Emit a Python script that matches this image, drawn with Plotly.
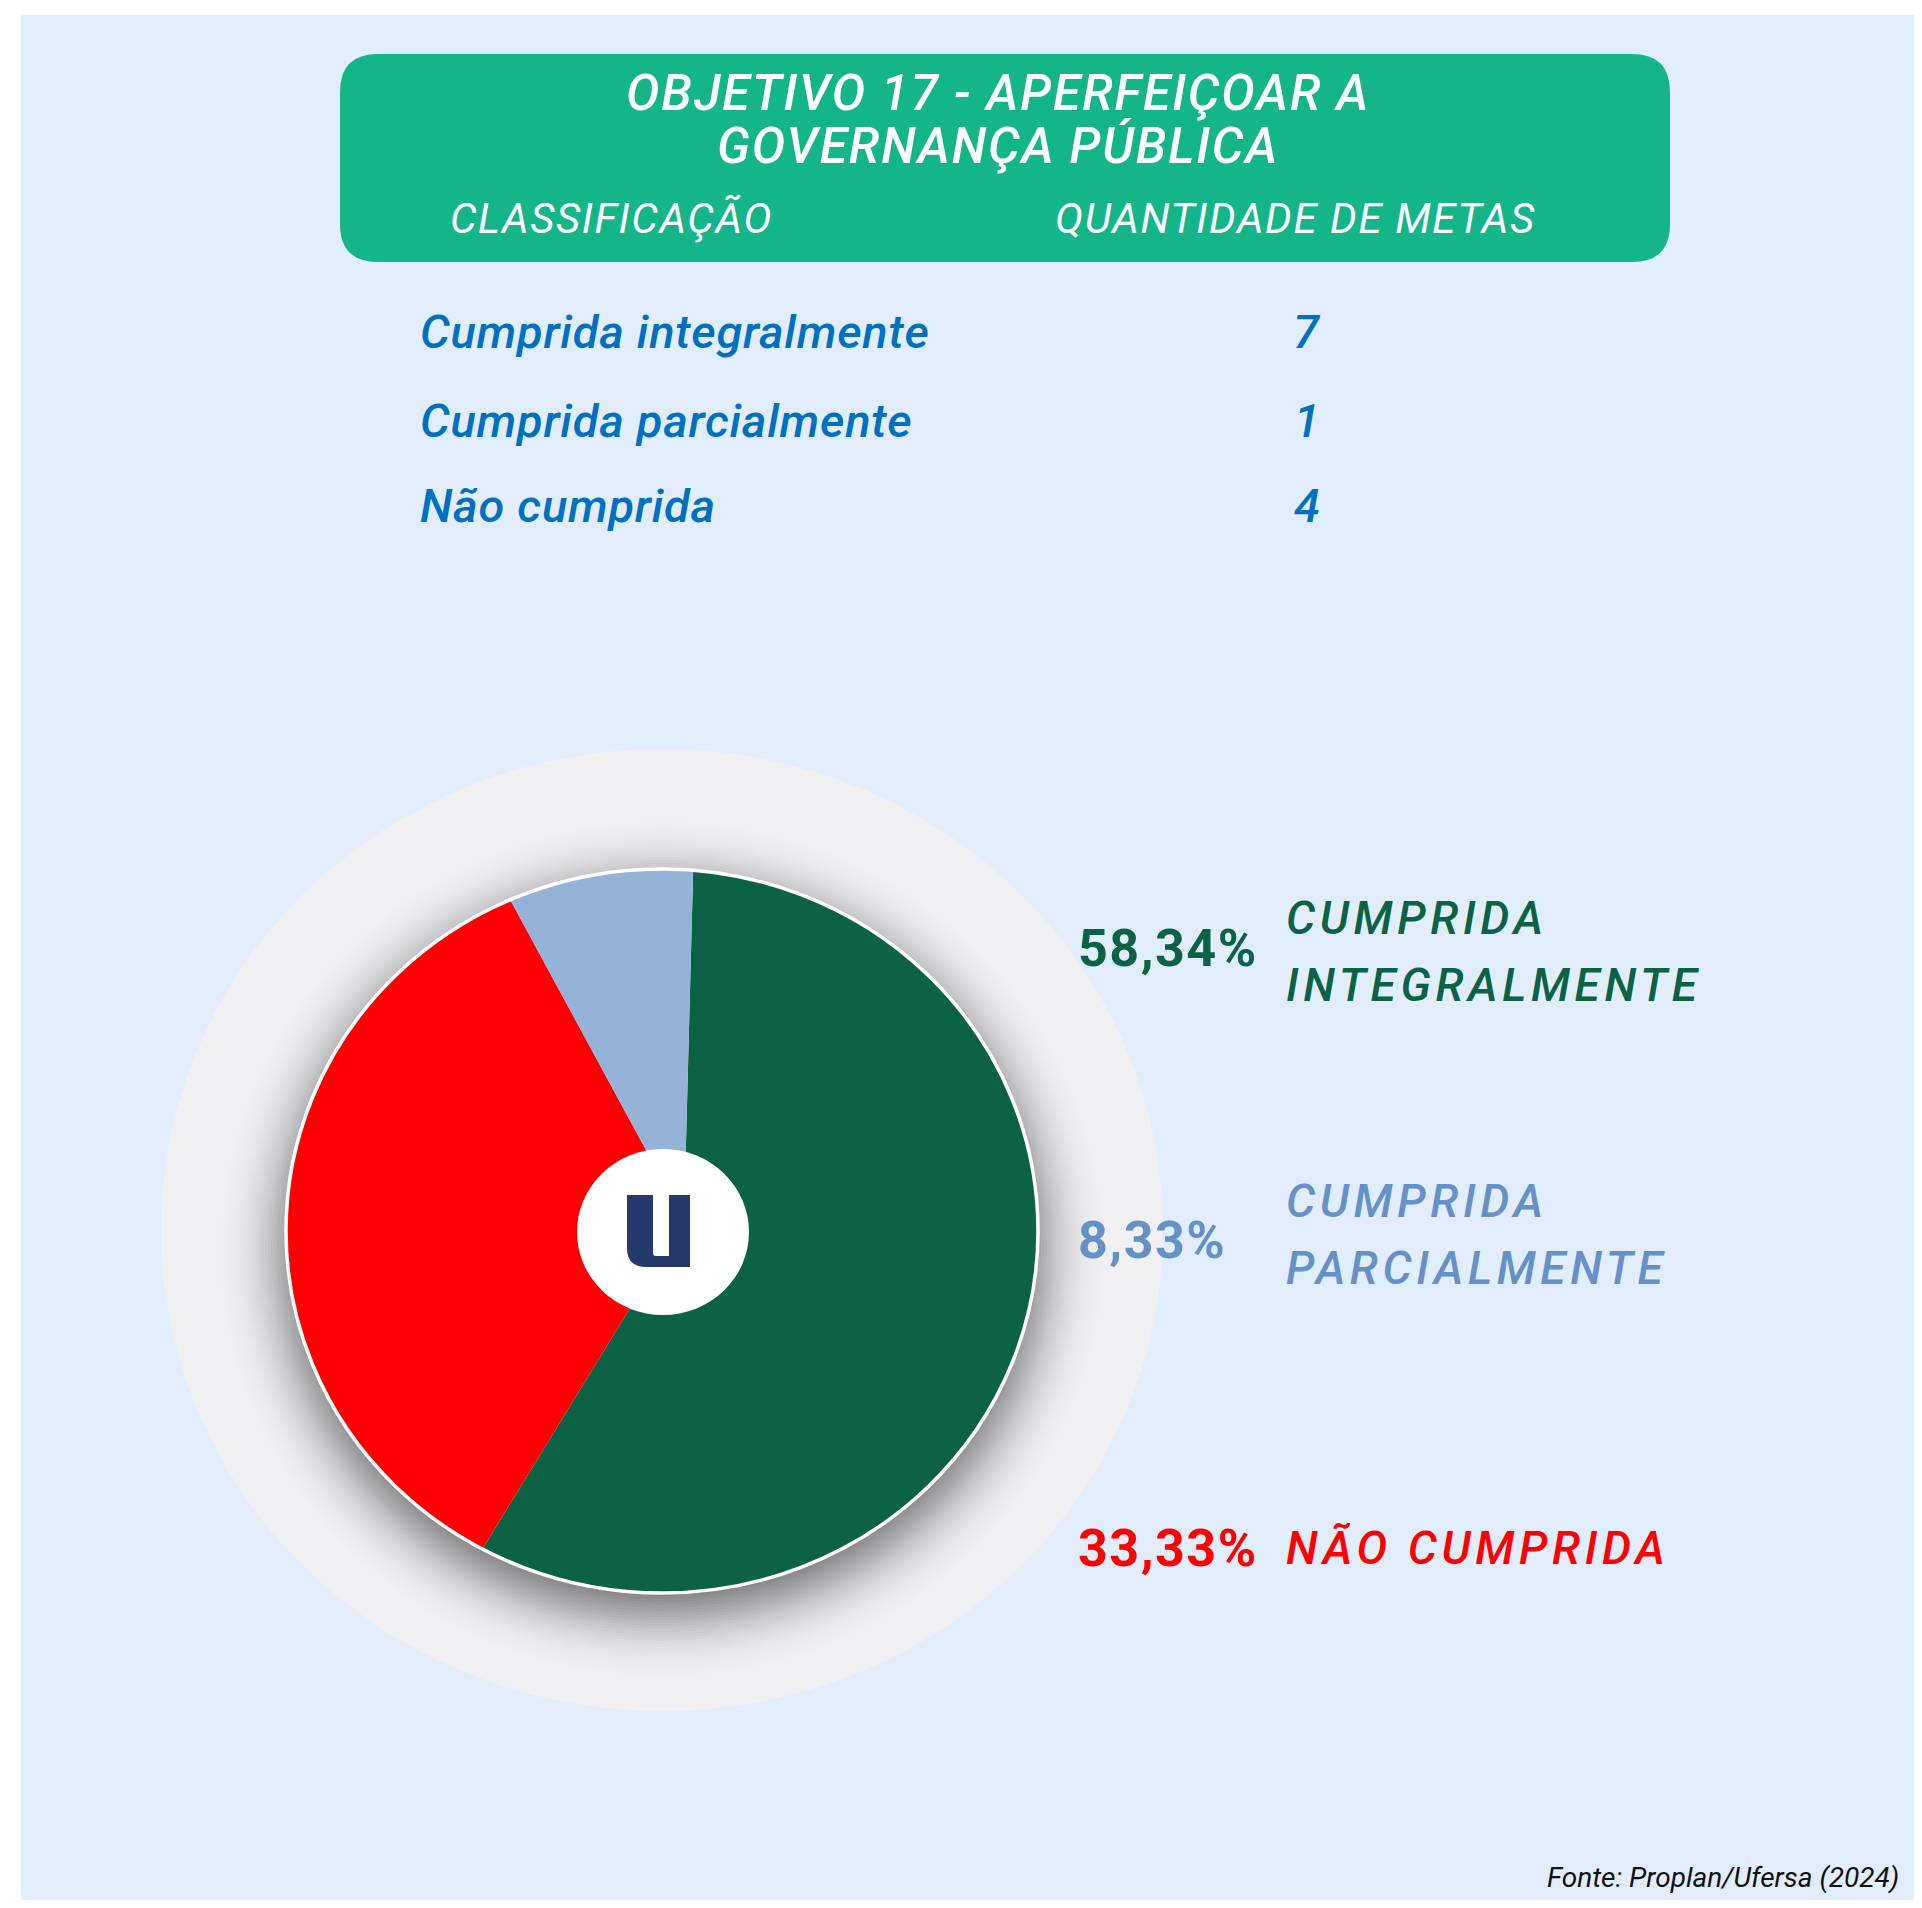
import math
import plotly.graph_objects as go

# ---------------- data ----------------
categories = ["Cumprida integralmente", "Não cumprida", "Cumprida parcialmente"]
quantities = [7, 4, 1]
slice_colors = ["#0C6244", "#FF0000", "#95B3D7"]

table_labels = ["Cumprida integralmente", "Cumprida parcialmente", "Não cumprida"]
table_values = ["7", "1", "4"]

pct_labels = ["58,34%", "8,33%", "33,33%"]
legend_lines = [["CUMPRIDA", "INTEGRALMENTE"], ["CUMPRIDA", "PARCIALMENTE"], ["NÃO CUMPRIDA"]]
legend_colors = ["#0C6244", "#6690C8", "#FF0000"]

title_lines = ["OBJETIVO 17 - APERFEIÇOAR A", "GOVERNANÇA PÚBLICA"]
header_cols = ["CLASSIFICAÇÃO", "QUANTIDADE DE METAS"]
source_text = "Fonte: Proplan/Ufersa (2024)"

# ---------------- geometry helpers ----------------
W, H = 1906, 1892
OFF = 8  # default body margin of the page


def px(X):
    return (X - OFF) / W


def py(Y):
    return 1 - (Y - OFF) / H


def poly(points):
    s = "M " + " L ".join(f"{px(x):.6f},{py(y):.6f}" for x, y in points)
    return s + " Z"


BG = "#E1EDFD"
HEADER = "#14B689"
HALO = "#F0F0F3"
TABLE_BLUE = "#0070C0"

shapes = []
# light blue panel
shapes.append(dict(type="rect", xref="paper", yref="paper", x0=px(21), x1=1.0, y0=0.0, y1=py(15),
                   fillcolor=BG, line=dict(width=0), layer="below"))

# header rounded box
L, R, T, B, rr = 340, 1670, 54, 262, 38
path = (f"M {px(L+rr)},{py(T)} L {px(R-rr)},{py(T)} Q {px(R)},{py(T)} {px(R)},{py(T+rr)} "
        f"L {px(R)},{py(B-rr)} Q {px(R)},{py(B)} {px(R-rr)},{py(B)} "
        f"L {px(L+rr)},{py(B)} Q {px(L)},{py(B)} {px(L)},{py(B-rr)} "
        f"L {px(L)},{py(T+rr)} Q {px(L)},{py(T)} {px(L+rr)},{py(T)} Z")
shapes.append(dict(type="path", xref="paper", yref="paper", path=path,
                   fillcolor=HEADER, line=dict(width=0), layer="below"))

# pie ellipse (visible disc) and halo ellipse
ecx, ecy, erx, ery = 662, 1231, 376, 362
hcx, hcy, hrx, hry = 662, 1230, 501, 481
N = 240
angles = [2 * math.pi * i / N for i in range(N)]
pie_pts = [(ecx + erx * math.cos(t), ecy + ery * math.sin(t)) for t in angles]
halo_pts = [(hcx + hrx * math.cos(t), hcy + hry * math.sin(t)) for t in angles]

# halo ring masking everything of the pie trace outside the visible disc
shapes.append(dict(type="path", xref="paper", yref="paper",
                   path=poly(halo_pts) + " " + poly(pie_pts[::-1]),
                   fillcolor=HALO, line=dict(width=0), layer="above", fillrule="evenodd"))


# soft drop shadow: rings = (offset ellipse U disc) minus disc
def Phi(z):
    return 0.5 * (1 + math.erf(z / math.sqrt(2)))


def r_pie(c, s):
    return 1 / math.sqrt((c / erx) ** 2 + (s / ery) ** 2)


def r_off(c, s, a, b, dy):
    A_ = (c / a) ** 2 + (s / b) ** 2
    B_ = -2 * s * dy / b ** 2
    C_ = dy ** 2 / b ** 2 - 1
    return (-B_ + math.sqrt(B_ * B_ - 4 * A_ * C_)) / (2 * A_)


d0, sig, Amax, sdy = 0, 30, 0.70, 18
deltas = [d0 + 3 * sig - 3 * k for k in range(0, 61)]
prevT = 0.0
for dl in deltas:
    Tk = Amax * Phi((d0 - dl) / sig)
    a = 1 - (1 - Tk) / (1 - prevT)
    prevT = Tk
    if a <= 0:
        continue
    outer = []
    poke = 0
    for t in angles:
        c, s = math.cos(t), math.sin(t)
        ro = r_off(c, s, erx + dl, ery + dl, sdy)
        rp = r_pie(c, s)
        poke = max(poke, ro - rp)
        rr_ = max(ro, rp)
        outer.append((ecx + rr_ * c, ecy + rr_ * s))
    if poke < 0.5:
        continue
    shapes.append(dict(type="path", xref="paper", yref="paper",
                       path=poly(outer) + " " + poly(pie_pts[::-1]),
                       fillcolor=f"rgba(40,40,40,{a:.4f})", line=dict(width=0),
                       layer="above", fillrule="evenodd"))

# white outline of the pie
shapes.append(dict(type="circle", xref="paper", yref="paper",
                   x0=px(ecx - erx), x1=px(ecx + erx), y0=py(ecy + ery), y1=py(ecy - ery),
                   fillcolor="rgba(0,0,0,0)", line=dict(color="white", width=3.5), layer="above"))

# white centre disc with logo
shapes.append(dict(type="circle", xref="paper", yref="paper",
                   x0=px(663 - 86), x1=px(663 + 86), y0=py(1232 + 83), y1=py(1232 - 83),
                   fillcolor="white", line=dict(width=0), layer="above"))
ux0, ux1, ux2, ux3 = 627, 653, 669, 690
uy_top, uy_in, uy_bot, ur, ir = 1195, 1256, 1267, 19, 3
upath = (f"M {px(ux0)},{py(uy_top)} L {px(ux0)},{py(uy_bot-ur)} Q {px(ux0)},{py(uy_bot)} {px(ux0+ur)},{py(uy_bot)} "
         f"L {px(ux3)},{py(uy_bot)} L {px(ux3)},{py(uy_top)} L {px(ux2)},{py(uy_top)} L {px(ux2)},{py(uy_in)} "
         f"L {px(ux1+ir)},{py(uy_in)} Q {px(ux1)},{py(uy_in)} {px(ux1)},{py(uy_in-ir)} L {px(ux1)},{py(uy_top)} Z")
shapes.append(dict(type="path", xref="paper", yref="paper", path=upath,
                   fillcolor="#253A6A", line=dict(width=0), layer="above"))

# ---------------- pie ----------------
apx, apy, prad = 684, 1220, 418  # apex of the wedges (hidden under the centre disc)
fig = go.Figure(go.Pie(
    labels=categories, values=quantities, sort=False, direction="clockwise", rotation=1.5,
    marker=dict(colors=slice_colors, line=dict(width=0)),
    textinfo="none", hoverinfo="label+value+percent", showlegend=False,
    domain=dict(x=[px(apx - prad), px(apx + prad)], y=[py(apy + prad), py(apy - prad)]),
))

# ---------------- text ----------------
ann = []


def add(text, X, Y, size, color, weight=400, style="normal", xanchor="center", spacing=None):
    if spacing:
        text = f"<span style='letter-spacing:{spacing}px'>{text}</span>"
    ann.append(dict(text=text, x=px(X), y=py(Y), xref="paper", yref="paper", showarrow=False,
                    xanchor=xanchor, yanchor="middle",
                    font=dict(family="Roboto", size=size, color=color, weight=weight, style=style)))


add(title_lines[0], 998, 93, 50, "white", 500, "italic", spacing=1.8)
add(title_lines[1], 998, 146, 50, "white", 500, "italic", spacing=1.8)
add(header_cols[0], 611, 218, 42, "white", 400, "italic", spacing=1.6)
add(header_cols[1], 1295, 218, 42, "white", 400, "italic", spacing=1.6)

row_y = [331, 420, 506]
for lab, val, yy in zip(table_labels, table_values, row_y):
    add(lab, 418, yy, 47, TABLE_BLUE, 500, "italic", xanchor="left", spacing=0.75)
    add(val, 1307, yy, 47, TABLE_BLUE, 500, "italic")

pct_y = [948, 1240, 1548]
line_y = [[918, 985], [1201, 1268], [1548]]
for p, lines, col, yy, ly in zip(pct_labels, legend_lines, legend_colors, pct_y, line_y):
    add(p, 1076, yy, 52, col, 700, "normal", xanchor="left", spacing=1.5)
    for t, y2 in zip(lines, ly):
        add(t, 1284, y2, 46, col, 500, "italic", xanchor="left", spacing=4.6)

add(source_text, 1901, 1877, 28, "#111111", 400, "italic", xanchor="right")

fig.update_layout(
    width=W, height=H, margin=dict(l=0, r=0, t=0, b=0),
    paper_bgcolor="white", plot_bgcolor="white",
    shapes=shapes, annotations=ann,
)

fig.write_html("out.html")
